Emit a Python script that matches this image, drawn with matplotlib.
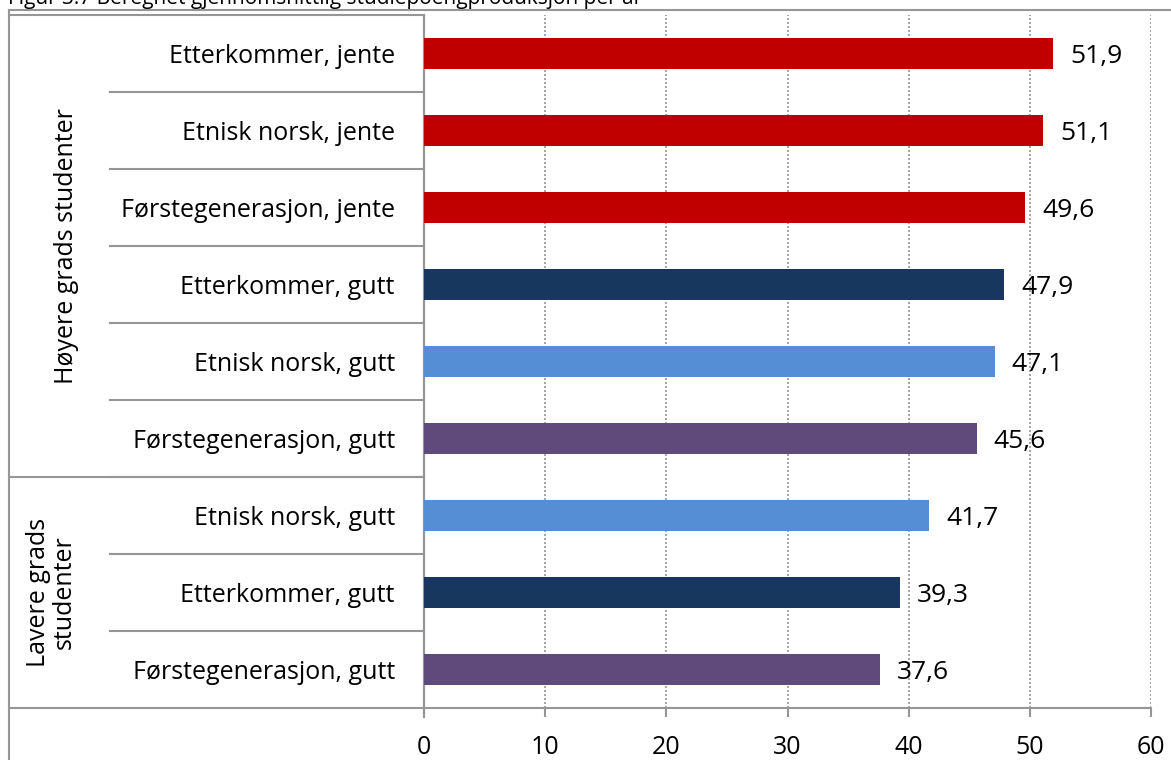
import numpy as np
import matplotlib
matplotlib.use("Agg")
import matplotlib.pyplot as plt
from matplotlib.transforms import blended_transform_factory

plt.rcParams['font.family'] = ['Open Sans', 'DejaVu Sans']

# data, bottom to top
kategorier = ["Førstegenerasjon, gutt", "Etterkommer, gutt", "Etnisk norsk, gutt",
              "Førstegenerasjon, gutt", "Etnisk norsk, gutt", "Etterkommer, gutt",
              "Førstegenerasjon, jente", "Etnisk norsk, jente", "Etterkommer, jente"]
verdier = [37.6, 39.3, 41.7, 45.6, 47.1, 47.9, 49.6, 51.1, 51.9]
farger = ["#604A7B", "#17375E", "#558ED5", "#604A7B", "#558ED5", "#17375E",
          "#C00000", "#C00000", "#C00000"]
grupper = ["Lavere grads\nstudenter", "Høyere grads studenter"]
gruppe_antall = [3, 6]
xticks = [0, 10, 20, 30, 40, 50, 60]

W, H = 1171, 760
fig = plt.figure(figsize=(W/100, H/100), dpi=100)
ax = fig.add_axes([424/W, (H-708)/H, (1151-424)/W, (708-15)/H])

y = np.arange(len(verdier))
ax.barh(y, verdier, height=0.4, color=farger, zorder=3)
for yi, v in zip(y, verdier):
    ax.text(v + 1.4, yi - 0.04, f"{v:.1f}".replace(".", ","), va="center", ha="left",
            fontsize=19, color="black", zorder=4)

ax.set_xlim(0, 60)
ax.set_ylim(-0.5, len(verdier) - 0.5)
ax.set_xticks(xticks)
ax.set_xticklabels([str(t) for t in xticks], fontsize=18)
ax.set_yticks(y)
ax.set_yticklabels(kategorier, fontsize=18)
ax.tick_params(axis="y", length=0, pad=21)
ax.tick_params(axis="x", length=6.5, width=1.5, color="#969696", pad=13)
ax.grid(axis="x", color="#969696", linestyle=(0, (1.2, 1.2)), linewidth=1.2, zorder=0)
for s in ["top", "right"]:
    ax.spines[s].set_visible(False)
ax.spines["left"].set_color("#969696")
ax.spines["left"].set_linewidth(1.6)
ax.spines["left"].set_bounds(-0.62, len(verdier) - 0.5)
ax.spines["bottom"].set_visible(False)

grå = "#969696"
tr = blended_transform_factory(fig.transFigure, ax.transData)
x_lab = 110/W
x_left = 9/W
x_ax = 424/W
# separators between categories in the label column
for b in np.arange(0.5, len(verdier) - 1, 1.0):
    ax.plot([x_lab, x_ax], [b, b], color=grå, lw=1.5, transform=tr, clip_on=False)
# group separator and bottom/top lines
grense = gruppe_antall[0] - 0.5
ax.plot([x_left, x_ax], [grense, grense], color=grå, lw=1.5, transform=tr, clip_on=False)
ax.plot([x_left, 1151/W], [-0.5, -0.5], color=grå, lw=1.5, transform=tr, clip_on=False)
ax.plot([x_left, x_ax], [len(verdier) - 0.5, len(verdier) - 0.5], color=grå, lw=1.5,
        transform=tr, clip_on=False)

# group labels
gruppe_x = [51/W, 67/W]
start = -0.5
for g, n, gx in zip(grupper, gruppe_antall, gruppe_x):
    midt = start + n / 2
    ax.text(gx, midt, g, rotation=90, ha="center", va="center", fontsize=18,
            linespacing=1.05, transform=tr, multialignment="center")
    start += n

# outer chart border
fig.add_artist(plt.Line2D([x_left, 1.0], [1 - 10/H, 1 - 10/H], color=grå, lw=1.5))
fig.add_artist(plt.Line2D([x_left, x_left], [0, 1 - 10/H], color=grå, lw=1.5))

# title, cut at the top edge as in the source image
fig.text(8/W, 1 - 4/H, "Figur 3.7 Beregnet gjennomsnittlig studiepoengproduksjon per år",
         ha="left", va="baseline", fontsize=15)

fig.savefig("out.png", dpi=100)
